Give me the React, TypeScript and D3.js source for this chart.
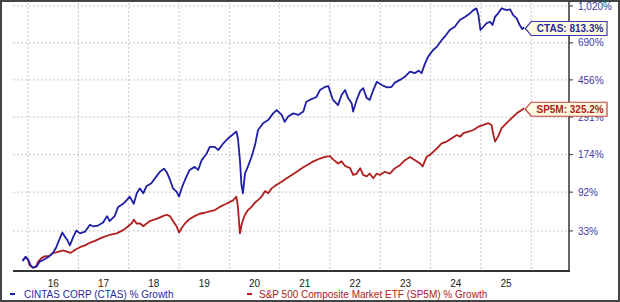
import React from "react";
import * as d3 from "d3";

// ---- Data (decimal year, % growth) ----
const ctasDates = [
  2015.89, 2015.95, 2016.0, 2016.05, 2016.1, 2016.17, 2016.23, 2016.3, 2016.37, 2016.43,
  2016.5, 2016.56, 2016.63, 2016.68, 2016.73, 2016.78, 2016.83, 2016.9, 2016.96, 2017.03,
  2017.13, 2017.23, 2017.29, 2017.39, 2017.49, 2017.57, 2017.62, 2017.72, 2017.79, 2017.89,
  2017.96, 2018.02, 2018.1, 2018.16, 2018.22, 2018.29, 2018.35, 2018.45, 2018.55, 2018.62,
  2018.7, 2018.75, 2018.82, 2018.88, 2018.95, 2019.0, 2019.05, 2019.12, 2019.21, 2019.31,
  2019.38, 2019.45, 2019.55, 2019.61, 2019.71, 2019.78, 2019.88, 2019.98, 2020.08, 2020.14,
  2020.17, 2020.21, 2020.24, 2020.27, 2020.31, 2020.37, 2020.44, 2020.51, 2020.57, 2020.67,
  2020.77, 2020.87, 2020.94, 2021.04, 2021.1, 2021.17, 2021.27, 2021.37, 2021.47, 2021.53,
  2021.6, 2021.73, 2021.8, 2021.9, 2021.97, 2022.0, 2022.06, 2022.16, 2022.23, 2022.3,
  2022.36, 2022.43, 2022.46, 2022.53, 2022.6, 2022.66, 2022.73, 2022.79, 2022.86, 2022.93,
  2023.03, 2023.13, 2023.22, 2023.29, 2023.39, 2023.49, 2023.59, 2023.69, 2023.76, 2023.82,
  2023.89, 2023.95, 2024.05, 2024.12, 2024.22, 2024.28, 2024.38, 2024.48, 2024.58, 2024.68,
  2024.78, 2024.85, 2024.91, 2024.95, 2024.99, 2025.05, 2025.11, 2025.18, 2025.23, 2025.28,
  2025.34, 2025.41, 2025.51, 2025.58, 2025.64, 2025.71, 2025.77, 2025.82, 2025.86,
];
const ctasValues = [
  0, 4, 1.5, -4, -6, -5, -0.5, 1, 3, 5,
  8.5, 14, 24, 31, 26, 22, 16, 26, 33.5, 30,
  32, 41, 39, 40, 44, 53, 46, 53, 67, 72,
  78, 84, 72, 90, 99, 90, 103, 109, 123, 133,
  140, 133, 116, 99, 93, 84, 99, 116, 137, 144,
  137, 160, 177, 195, 195, 186, 205, 220, 233, 241,
  220, 160, 106, 90, 129, 145, 168, 200, 246, 269,
  280, 305, 318, 299, 274, 293, 305, 299, 312, 352,
  360, 373, 405, 420, 424, 400, 360, 338, 382, 405,
  368, 346, 312, 360, 400, 414, 368, 360, 405, 446,
  430, 418, 420, 442, 456, 473, 501, 493, 507, 493,
  550, 593, 638, 660, 711, 737, 792, 820, 880, 910,
  944, 977, 995, 927, 792, 820, 850, 865, 835, 910,
  944, 995, 977, 985, 927, 895, 835, 800, 813.3,
];

const spDates = [
  2015.89, 2015.95, 2016.0, 2016.03, 2016.09, 2016.15, 2016.2, 2016.27, 2016.33, 2016.42,
  2016.5, 2016.56, 2016.63, 2016.7, 2016.76, 2016.84, 2016.93, 2017.03, 2017.13, 2017.23,
  2017.33, 2017.43, 2017.52, 2017.62, 2017.76, 2017.89, 2017.99, 2018.06, 2018.1, 2018.16,
  2018.22, 2018.29, 2018.35, 2018.42, 2018.55, 2018.68, 2018.75, 2018.82, 2018.88, 2018.95,
  2019.0, 2019.05, 2019.12, 2019.21, 2019.31, 2019.41, 2019.51, 2019.61, 2019.71, 2019.81,
  2019.94, 2020.08, 2020.14, 2020.17, 2020.21, 2020.25, 2020.31, 2020.37, 2020.44, 2020.51,
  2020.57, 2020.64, 2020.71, 2020.77, 2020.84, 2020.94, 2021.04, 2021.14, 2021.24, 2021.34,
  2021.47, 2021.6, 2021.67, 2021.8, 2021.9, 2022.0, 2022.06, 2022.16, 2022.23, 2022.3,
  2022.4, 2022.46, 2022.53, 2022.6, 2022.66, 2022.73, 2022.79, 2022.86, 2022.93, 2022.99,
  2023.09, 2023.19, 2023.29, 2023.39, 2023.49, 2023.59, 2023.69, 2023.79, 2023.84, 2023.92,
  2024.02, 2024.12, 2024.22, 2024.32, 2024.42, 2024.52, 2024.59, 2024.65, 2024.75, 2024.85,
  2024.95, 2025.05, 2025.15, 2025.21, 2025.24, 2025.28, 2025.34, 2025.41, 2025.51, 2025.61,
  2025.71, 2025.81, 2025.86,
];
const spValues = [
  0, 4, 1, -4, -6, -5.5, -0.5, 3, 4.5, 5,
  8, 8.5, 9.5, 10.5, 9.5, 8, 11, 14, 16, 19,
  21, 24, 26, 28, 30, 34, 39, 43, 48, 42.5,
  43, 39, 42.5, 46, 49, 53, 55, 53, 46, 39,
  31, 36.5, 43, 49, 53, 56.5, 58, 60, 62, 67,
  72, 78, 84, 67, 30, 43, 55, 62, 67, 74,
  78, 84, 94, 90, 99, 106, 112, 119, 126, 133,
  143, 152, 157, 164, 168, 170, 162, 152, 157, 146,
  141, 126, 129, 141, 126, 123, 129, 119, 129, 126,
  133, 129, 141, 148, 160, 168, 160, 152, 145, 168,
  177, 190, 205, 210, 220, 230, 225, 236, 241, 246,
  257, 263, 269, 263, 236, 210, 225, 252, 269, 287,
  305, 318, 325.2,
];

const gridYears = [2016, 2017, 2018, 2019, 2020, 2021, 2022, 2023, 2024, 2025, 2026];
const yearLabels = ["16", "17", "18", "19", "20", "21", "22", "23", "24", "25"];
const pctTicks = [33, 92, 174, 291, 456, 690, 1020];
const pctTickLabels = ["33%", "92%", "174%", "291%", "456%", "690%", "1,020%"];

const ctasLabel = "CTAS: 813.3%";
const spLabel = "SP5M: 325.2%";
const ctasLegend = "CINTAS CORP (CTAS) % Growth";
const spLegend = "S&P 500 Composite Market ETF (SP5M) % Growth";

const W = 620;
const H = 302;
const L = 13;
const R = 569;
const T = 3;
const B = 271;

const BLUE = "#1f1fa8";
const RED = "#b01e1e";
const FONT = "'Liberation Sans', Arial, sans-serif";

export default function App() {
  const x = d3.scaleLinear().domain([2015.7, 2026.75]).range([L, R]);
  const y = d3.scaleLog().domain([0.91, 11.52]).range([B, T]);
  const yp = (p: number) => y(1 + p / 100);

  const line = d3
    .line<[number, number]>()
    .x((d) => x(d[0]))
    .y((d) => yp(d[1]));

  const ctas = ctasDates.map((d, i) => [d, ctasValues[i]] as [number, number]);
  const sp = spDates.map((d, i) => [d, spValues[i]] as [number, number]);

  const callout = (
    last: [number, number],
    text: string,
    stroke: string,
    color: string
  ) => {
    const tx = x(last[0]) + 1;
    const ty = yp(last[1]) + 1;
    const bx = tx + 6;
    const ex = 607;
    const h = 7;
    const path = `M${tx},${ty} L${bx},${ty - h} L${ex},${ty - h} L${ex},${ty + h} L${bx},${ty + h} Z`;
    return (
      <g>
        <path d={path} fill="#fdfbe0" stroke={stroke} strokeWidth={1.2} />
        <text
          x={(bx + ex) / 2 + 1}
          y={ty + 3.6}
          textAnchor="middle"
          fontSize={10}
          fontWeight="bold"
          fill={color}
          fontFamily={FONT}
        >
          {text}
        </text>
      </g>
    );
  };

  return (
    <div style={{ position: "absolute", left: 0, top: 0 }}>
      <svg width={W} height={H} style={{ display: "block" }}>
        <rect x={0} y={0} width={W} height={H} fill="#fff" />
        {/* grid */}
        {gridYears.map((g) => (
          <line
            key={"gx" + g}
            x1={x(g)}
            x2={x(g)}
            y1={T}
            y2={B}
            stroke="#c8c8c8"
            strokeDasharray="2,2"
            strokeWidth={1}
          />
        ))}
        {pctTicks.map((p) => (
          <line
            key={"gy" + p}
            x1={L}
            x2={R}
            y1={yp(p)}
            y2={yp(p)}
            stroke="#c8c8c8"
            strokeDasharray="2,2"
            strokeWidth={1}
          />
        ))}
        {/* series */}
        <path d={line(sp) || ""} fill="none" stroke={RED} strokeWidth={1.8} strokeLinejoin="round" />
        <path d={line(ctas) || ""} fill="none" stroke={BLUE} strokeWidth={1.8} strokeLinejoin="round" />
        {/* axes */}
        <line x1={L} x2={R + 1} y1={B} y2={B} stroke="#333" strokeWidth={2} />
        <line x1={R} x2={R} y1={0} y2={B} stroke="#333" strokeWidth={1.5} />
        {pctTicks.map((p, i) => (
          <g key={"yt" + p}>
            <line x1={R} x2={R + 4} y1={yp(p)} y2={yp(p)} stroke="#333" strokeWidth={1} />
            <text
              x={R + 9}
              y={yp(p) + 3.6}
              fontSize={10}
              fill="#3a3aa6"
              fontFamily={FONT}
            >
              {pctTickLabels[i]}
            </text>
          </g>
        ))}
        {yearLabels.map((lab, i) => (
          <text
            key={"xl" + lab}
            x={x(gridYears[i] + 0.5)}
            y={287}
            textAnchor="middle"
            fontSize={10}
            fill="#222"
            fontFamily={FONT}
          >
            {lab}
          </text>
        ))}
        {/* callouts */}
        {callout(ctas[ctas.length - 1], ctasLabel, "#3b3bb0", "#2a2a9c")}
        {callout(sp[sp.length - 1], spLabel, "#c04040", "#b02020")}
        {/* legend */}
        <line x1={10} x2={15} y1={294} y2={294} stroke={BLUE} strokeWidth={2} />
        <text x={24} y={297.5} fontSize={10} fill="#2a2aa0" fontFamily={FONT}>
          {ctasLegend}
        </text>
        <line x1={247} x2={252} y1={294} y2={294} stroke={RED} strokeWidth={2} />
        <text x={259} y={297.5} fontSize={10} fill="#b02020" fontFamily={FONT}>
          {spLegend}
        </text>
        {/* frame */}
        <rect x={1} y={1} width={W - 2} height={H - 2} fill="none" stroke="#444" strokeWidth={2} />
      </svg>
    </div>
  );
}
